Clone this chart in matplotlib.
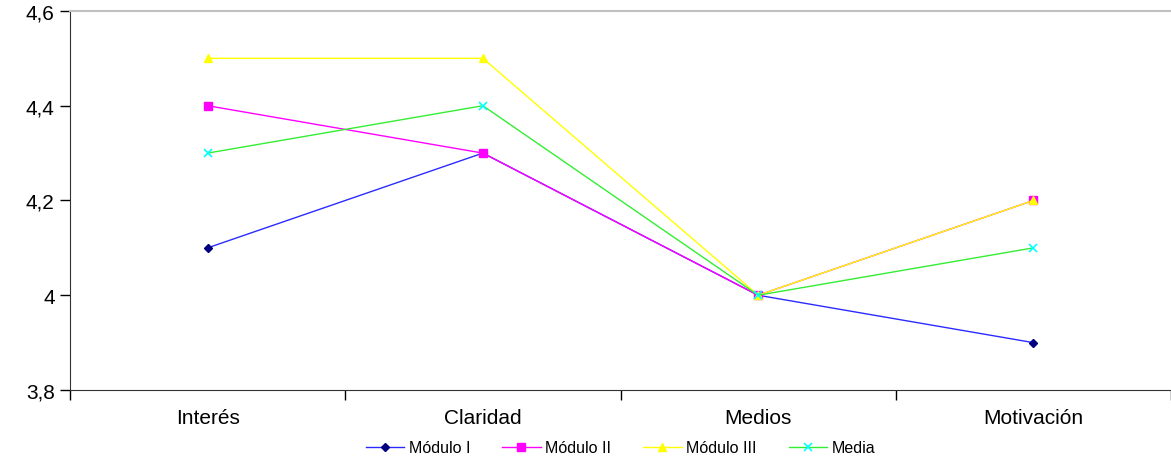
import matplotlib
matplotlib.use('Agg')
import matplotlib.pyplot as plt
from matplotlib.ticker import FuncFormatter, FixedLocator

plt.rcParams['font.family'] = ['Liberation Sans', 'DejaVu Sans']

categories = ['Interés', 'Claridad', 'Medios', 'Motivación']
modulo_1 = [4.1, 4.3, 4.0, 3.9]
modulo_2 = [4.4, 4.3, 4.0, 4.2]
modulo_3 = [4.5, 4.5, 4.0, 4.2]
media = [4.3, 4.4, 4.0, 4.1]
yticks = [3.8, 4.0, 4.2, 4.4, 4.6]

fig = plt.figure(figsize=(11.71, 4.60), dpi=100)
ax = fig.add_axes([0.0598, 0.15, 0.9402, 0.824])

x = list(range(len(categories)))
ax.plot(x, modulo_1, color='#2b2bff', lw=1.0, marker='D', ms=4.5,
        mfc='#000080', mec='#000080', label='Módulo I')
ax.plot(x, modulo_2, color='#ff00ff', lw=1.0, marker='s', ms=6,
        mfc='#ff00ff', mec='#ff00ff', label='Módulo II')
ax.plot(x, modulo_3, color='#ffff00', lw=1.0, marker='^', ms=6,
        mfc='#ffff00', mec='#ffff00', label='Módulo III')
ax.plot(x, media, color='#33ee33', lw=1.0, marker='x', ms=6, mew=1.2,
        mfc='#00ffff', mec='#00ffff', label='Media')

ax.set_xlim(-0.5, len(categories) - 0.5)
ax.set_ylim(3.8, 4.6)
ax.set_yticks(yticks)
ax.yaxis.set_major_formatter(FuncFormatter(lambda v, p: f"{v:g}".replace('.', ',')))

ax.set_xticks(x)
ax.set_xticklabels(categories)
ax.xaxis.set_minor_locator(FixedLocator([i - 0.5 for i in range(len(categories) + 1)]))
ax.tick_params(axis='x', which='major', length=0, pad=13, labelsize=15)
ax.tick_params(axis='x', which='minor', length=7, width=1, direction='out')
ax.tick_params(axis='y', length=7, width=1, direction='out', pad=4, labelsize=15)

ax.spines['right'].set_visible(False)
ax.spines['top'].set_color('#c0c0c0')
ax.spines['top'].set_linewidth(1.5)
ax.spines['left'].set_color('#333333')
ax.spines['bottom'].set_color('#333333')

fig.legend(loc='center', bbox_to_anchor=(0.53, 0.024), ncol=4, frameon=False,
           fontsize=11.5, handlelength=2.4, handletextpad=0.3, columnspacing=2.0)

fig.savefig('out.png', dpi=100)
